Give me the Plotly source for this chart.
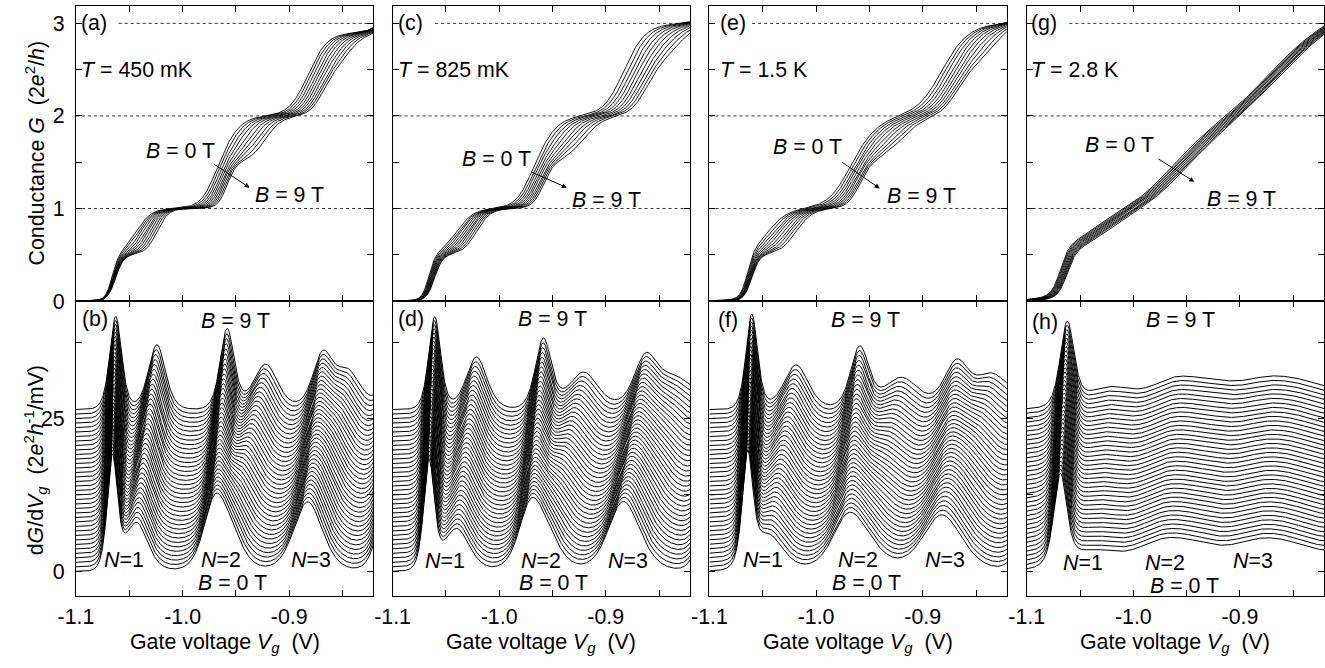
import numpy as np
import plotly.graph_objects as go

W, H = 1325, 668
FONT = "Liberation Sans, Arial, sans-serif"
# measured mapping of the page onto the photographed picture:
# picture_x = SHIFT_X + SCALE * page_x,  picture_y = SHIFT_Y + SCALE * page_y
SCALE, SHIFT_X, SHIFT_Y = 0.9826, 20.0, 1.5
FS = 21 / SCALE   # font size that ends up as 21 px in the picture

# ---------------- values ----------------
temperature_labels = ["450 mK", "825 mK", "1.5 K", "2.8 K"]
top_letters = ["(a)", "(c)", "(e)", "(g)"]
bottom_letters = ["(b)", "(d)", "(f)", "(h)"]

# gate-voltage window (V) and tick labels
vg_window = [-1.1, -0.821]
vg_ticks = [-1.1, -1.05, -1.0, -0.95, -0.9, -0.85]
vg_ticktext = ["-1.1", "", "-1.0", "", "-0.9", ""]
G_ticks = [0, 0.5, 1, 1.5, 2, 2.5, 3]
G_ticktext = ["0", "", "1", "", "2", "", "3"]
dG_ticks = [0, 12.5, 25, 37.5]
dG_ticktext = ["0", "", "25", ""]
G_window = [0, 3.19]
dG_window = [-4.0, 44.2]
plateaus = [1, 2, 3]

# magnetic fields of the plotted traces (T)
fields_top = [0, 1, 2, 3, 4, 5, 6, 7, 8, 9]
fields_bottom = [0, 0.25, 0.5, 0.75, 1, 1.25, 1.5, 1.75, 2, 2.25, 2.5, 2.75, 3,
                 3.25, 3.5, 3.75, 4, 4.25, 4.5, 4.75, 5, 5.25, 5.5, 5.75, 6,
                 6.25, 6.5, 6.75, 7, 7.25, 7.5, 7.75, 8, 8.25, 8.5, 8.75, 9]
trace_offset = 0.735   # vertical shift between successive dG/dVg traces
dGdV_scale = 0.45      # plotted dG/dVg units per (2e^2/h)/V

# spin-resolved subband edges, order:
# N=1 down, N=1 up, N=2 down, N=2 up, N=3 down, N=3 up, N=4 down
edge_0T_450mK = [-1.066, -1.0435, -0.971, -0.958, -0.886, -0.878, -0.810]
edge_9T_450mK = [-1.0628, -1.0242, -0.9583, -0.9222, -0.8688, -0.845, -0.802]
peak_0T_450mK = [18.0, 8.0, 8.5, 6.5, 6.5, 5.5, 10.0]
peak_9T_450mK = [15.2, 10.6, 13.0, 7.4, 8.5, 6.0, 10.0]
step_450mK = [0.5, 0.5, 0.5, 0.5, 0.47, 0.43, 0.5]

edge_0T_825mK = [-1.0659, -1.040, -0.9715, -0.958, -0.8865, -0.878, -0.805]
edge_9T_825mK = [-1.0605, -1.0213, -0.9586, -0.9209, -0.8628, -0.835, -0.797]
peak_0T_825mK = [17.4, 7.0, 8.0, 6.0, 6.5, 5.5, 11.0]
peak_9T_825mK = [15.1, 8.6, 11.3, 6.1, 7.8, 5.0, 10.0]
step_825mK = [0.5, 0.5, 0.5, 0.5, 0.5, 0.5, 0.5]

edge_0T_1K5 = [-1.0643, -1.045, -0.9715, -0.958, -0.8855, -0.877, -0.800]
edge_9T_1K5 = [-1.0603, -1.0188, -0.9592, -0.920, -0.8683, -0.835, -0.795]
peak_0T_1K5 = [17.4, 6.0, 6.0, 4.5, 5.0, 4.5, 9.0]
peak_9T_1K5 = [15.5, 7.3, 9.9, 5.2, 7.3, 5.5, 8.0]
step_1K5 = [0.5, 0.5, 0.5, 0.5, 0.5, 0.5, 0.5]

edge_0T_2K8 = [-1.0685, -1.040, -0.975, -0.942, -0.885, -0.852, -0.790]
edge_9T_2K8 = [-1.0621, -1.024, -0.962, -0.925, -0.875, -0.840, -0.780]
peak_0T_2K8 = [14.2, 3.2, 3.4, 3.0, 3.2, 3.0, 3.4]
peak_9T_2K8 = [13.3, 3.4, 3.6, 3.0, 3.2, 3.0, 3.4]
step_2K8 = [0.5, 0.5, 0.5, 0.5, 0.5, 0.5, 0.5]

panels = [
    dict(e0=edge_0T_450mK, e9=edge_9T_450mK, h0=peak_0T_450mK, h9=peak_9T_450mK, a=step_450mK),
    dict(e0=edge_0T_825mK, e9=edge_9T_825mK, h0=peak_0T_825mK, h9=peak_9T_825mK, a=step_825mK),
    dict(e0=edge_0T_1K5, e9=edge_9T_1K5, h0=peak_0T_1K5, h9=peak_9T_1K5, a=step_1K5),
    dict(e0=edge_0T_2K8, e9=edge_9T_2K8, h0=peak_0T_2K8, h9=peak_9T_2K8, a=step_2K8),
]

vg = np.linspace(vg_window[0], vg_window[1], 800)


def subbands(p, B):
    f = B / 9.0
    out = []
    for e0, e9, h0, h9, a in zip(p["e0"], p["e9"], p["h0"], p["h9"], p["a"]):
        pos = e0 + (e9 - e0) * f
        hgt = h0 + (h9 - h0) * f
        w = dGdV_scale * a / (4.0 * hgt)
        out.append((pos, hgt, w, a))
    return out


def conductance(p, B):
    G = np.zeros_like(vg)
    for pos, hgt, w, a in subbands(p, B):
        G += a * 0.5 * (1.0 + np.tanh((vg - pos) / (2.0 * w)))
    return G


def transconductance(p, B):
    d = np.zeros_like(vg)
    for pos, hgt, w, a in subbands(p, B):
        d += hgt / np.cosh((vg - pos) / (2.0 * w)) ** 2
    return d


# ---------------- layout geometry (picture pixels) ----------------
col_left = [77.8, 393.1, 708.8, 1024.8]
col_width = 296.3
y_top_frame, y_mid, y_bot_frame = 7.3, 302.7, 597.7


def px(x):
    return min(1.0, max(0.0, (x - SHIFT_X) / SCALE / W))


def py(y):
    return min(1.0, max(0.0, 1 - (y - SHIFT_Y) / SCALE / H))


fig = go.Figure()
layout = dict(width=W, height=H, margin=dict(l=0, r=0, t=0, b=0), autosize=False,
              paper_bgcolor="white", plot_bgcolor="white", showlegend=False,
              font=dict(family=FONT, size=FS, color="black"))
shapes = []
annotations = []

for c in range(4):
    p = panels[c]
    xdom = [px(col_left[c]), px(col_left[c] + col_width)]
    for r in range(2):
        idx = 2 * c + r + 1
        sfx = "" if idx == 1 else str(idx)
        ax_common = dict(showline=True, linecolor="black", linewidth=1, mirror="allticks",
                         ticks="inside", ticklen=6, tickwidth=1, tickcolor="black",
                         showgrid=False, zeroline=False, fixedrange=True,
                         tickfont=dict(family=FONT, size=FS, color="black"))
        layout["xaxis" + sfx] = dict(ax_common, domain=xdom, range=vg_window,
                                     anchor="y" + sfx, tickmode="array", tickvals=vg_ticks,
                                     ticktext=vg_ticktext if r == 1 else [" "] * len(vg_ticks),
                                     ticklabelstandoff=1)
        if r == 0:
            layout["yaxis" + sfx] = dict(ax_common, domain=[py(y_mid), py(y_top_frame)],
                                         range=G_window, anchor="x" + sfx, tickmode="array",
                                         tickvals=G_ticks,
                                         ticktext=G_ticktext if c == 0 else [" "] * len(G_ticks),
                                         ticklabelstandoff=6)
            for B in fields_top:
                fig.add_trace(go.Scatter(x=vg, y=conductance(p, B), mode="lines",
                                         line=dict(color="black", width=0.9),
                                         xaxis="x" + sfx, yaxis="y" + sfx, hoverinfo="skip"))
            for g in plateaus:
                x_start = -1.06 if g == 3 else vg_window[0]
                shapes.append(dict(type="line", xref="x" + sfx, yref="y" + sfx,
                                   x0=x_start, x1=vg_window[1], y0=g, y1=g,
                                   line=dict(color="#333333", width=1, dash="dot"), layer="below"))
        else:
            layout["yaxis" + sfx] = dict(ax_common, domain=[py(y_bot_frame), py(y_mid)],
                                         range=dG_window, anchor="x" + sfx, tickmode="array",
                                         tickvals=dG_ticks,
                                         ticktext=dG_ticktext if c == 0 else [" "] * len(dG_ticks),
                                         ticklabelstandoff=6)
            for j, B in enumerate(fields_bottom):
                fig.add_trace(go.Scatter(x=vg, y=transconductance(p, B) + j * trace_offset,
                                         mode="lines", line=dict(color="black", width=1),
                                         xaxis="x" + sfx, yaxis="y" + sfx, hoverinfo="skip"))


def text(x, y, s, xanchor="center"):
    annotations.append(dict(x=px(x), y=py(y), xref="paper", yref="paper", text=s,
                            showarrow=False, xanchor=xanchor, yanchor="middle",
                            font=dict(family=FONT, size=FS, color="black")))


# top panel labels
top_label_left = [81, 397, 717, 1027]
b0_pos = [(182, 153), (497, 161), (806, 149), (1117, 147)]
b9_pos = [(290, 197), (606, 202), (920, 198), (1239, 201)]
arrow_head = [(250.7, 189.3), (566.7, 189.3), (878.3, 190), (1191.7, 183.3)]
arrow_tail = [(214, 165), (530, 173), (840, 163.3), (1155, 160)]
for c in range(4):
    text(top_label_left[c], 25, top_letters[c], "left")
    text(top_label_left[c], 72, "<i>T</i> = " + temperature_labels[c], "left")
    text(*b0_pos[c], "<i>B</i> = 0 T")
    text(*b9_pos[c], "<i>B</i> = 9 T")
    hx, hy = arrow_head[c]
    tx, ty = arrow_tail[c]
    annotations.append(dict(x=px(hx), y=py(hy), xref="paper", yref="paper",
                            ax=(tx - hx) / SCALE, ay=(ty - hy) / SCALE,
                            axref="pixel", ayref="pixel",
                            showarrow=True, arrowhead=2, arrowsize=1, arrowwidth=1,
                            arrowcolor="black", text=""))

# bottom panel labels
letter_pos = [(97, 321), (411, 321), (727, 322), (1043, 324)]
b9b_pos = [(237, 323), (552, 321), (864, 322), (1178, 322)]
n1_pos = [(126, 562), (445, 563), (762, 562), (1081, 565)]
n2_pos = [(222, 562), (541, 563), (857, 562), (1163, 565)]
n3_pos = [(312, 562), (628, 563), (943, 562), (1250, 563)]
b0b_pos = [(234, 585), (553, 585), (865, 585), (1182, 588)]
for c in range(4):
    text(*letter_pos[c], bottom_letters[c])
    text(*b9b_pos[c], "<i>B</i> = 9 T")
    text(*n1_pos[c], "<i>N</i>=1")
    text(*n2_pos[c], "<i>N</i>=2")
    text(*n3_pos[c], "<i>N</i>=3")
    text(*b0b_pos[c], "<i>B</i> = 0 T")
    text(col_left[c] + col_width / 2, 645, "Gate voltage <i>V</i><sub><i>g</i></sub>  (V)")

# y-axis titles
annotations.append(dict(x=px(37), y=py(155), xref="paper", yref="paper", textangle=-90,
                        text="Conductance <i>G</i>  (2<i>e</i><sup>2</sup>/<i>h</i>)",
                        showarrow=False, xanchor="center", yanchor="middle",
                        font=dict(family=FONT, size=FS, color="black")))
annotations.append(dict(x=px(37), y=py(462), xref="paper", yref="paper", textangle=-90,
                        text="d<i>G</i>/d<i>V</i><sub><i>g</i></sub>  (2<i>e</i><sup>2</sup><i>h</i><sup>-1</sup>/mV)",
                        showarrow=False, xanchor="center", yanchor="middle",
                        font=dict(family=FONT, size=FS, color="black")))

layout["shapes"] = shapes
layout["annotations"] = annotations
fig.update_layout(**layout)
fig.write_html("out.html", config={"displayModeBar": False},
               post_script="document.body.style.margin='0px';"
                           "document.body.style.overflow='hidden';"
                           "document.documentElement.style.overflow='hidden';")
